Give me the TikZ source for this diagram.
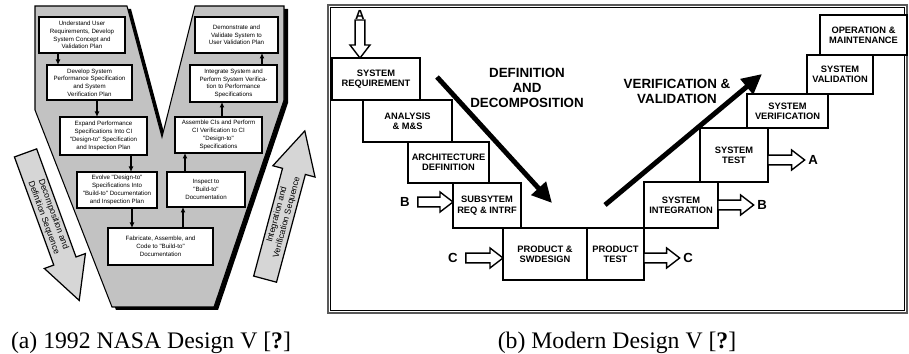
\documentclass[tikz,border=0pt]{standalone}
\usepackage{fontspec}
\setmainfont{Liberation Serif}
\newfontfamily\vfont{Liberation Sans}
\usetikzlibrary{arrows.meta, positioning, calc, shapes.arrows}

\tikzset{
    nasabox/.style 2 args={rectangle, draw=black, fill=white, line width=0.7pt, anchor=north west, inner sep=0.5pt, outer sep=0pt, minimum width=#1*0.02cm, minimum height=#2*0.02cm, align=center, font=\vfont\fontsize{3.5}{4.4}\selectfont},
    stepbox/.style 2 args={rectangle, draw=black, fill=white, line width=0.8pt, anchor=north west, inner sep=0.5pt, outer sep=0pt, minimum width=#1*0.02cm, minimum height=#2*0.02cm, align=center, font=\vfont\bfseries\fontsize{5.3}{5.9}\selectfont},
    flowarrow/.style={-{Latex[length=1.1mm, width=1mm]}, line width=0.6pt},
    seqarrow/.style={single arrow, draw=black, fill=black!16, line width=0.7pt, single arrow head extend=0.2cm, single arrow tip angle=55, align=center, inner sep=1.2pt, font=\vfont\fontsize{4.9}{5.8}\selectfont},
    vfill/.style={fill=black!24, draw=black, line width=0.6pt},
    bigarrow/.style={-{Triangle[length=4mm, width=3.8mm]}, line width=2.8pt},
    biglabel/.style={align=center, font=\vfont\bfseries\fontsize{7.6}{8.6}\selectfont, inner sep=0pt},
    abclabel/.style={font=\vfont\bfseries\fontsize{7.5}{8}\selectfont, inner sep=1pt},
    hollowright/.style={draw=black, fill=white, line width=0.8pt, line join=miter,
        to path={let \p1=(\tikztostart), \p2=(\tikztotarget) in
        (\x1,\y1+2.8pt) -- (\x2-7.4pt,\y1+2.8pt) -- (\x2-7.4pt,\y1+5.7pt) -- (\x2,\y1) -- (\x2-7.4pt,\y1-5.7pt) -- (\x2-7.4pt,\y1-2.8pt) -- (\x1,\y1-2.8pt) -- cycle}},
    hollowdown/.style={draw=black, fill=white, line width=0.8pt, line join=miter,
        to path={let \p1=(\tikztostart), \p2=(\tikztotarget) in
        (\x1+2.8pt,\y1) -- (\x1+2.8pt,\y2+7.4pt) -- (\x1+5.7pt,\y2+7.4pt) -- (\x1,\y2) -- (\x1-5.7pt,\y2+7.4pt) -- (\x1-2.8pt,\y2+7.4pt) -- (\x1-2.8pt,\y1) -- cycle}}
}

\begin{document}
\begin{tikzpicture}[x=0.02cm, y=-0.02cm]
\useasboundingbox (0,0) rectangle (909,354);

% (a) NASA V
\fill[black, shift={(4,3)}] (35,6) -- (127,6) -- (162,137) -- (195,6) -- (284,6) -- (284,100) -- (214,307) -- (112,307) -- (35,110) -- cycle;
\filldraw[vfill] (35,6) -- (127,6) -- (162,137) -- (195,6) -- (284,6) -- (284,100) -- (214,307) -- (112,307) -- (35,110) -- cycle;

\node[seqarrow, rotate=-70, minimum height=3.14cm] (decomp) at (48.5,216) {Decomposition and\\Definition Sequence};
\node[seqarrow, rotate=75, minimum height=3.07cm] (integ) at (282,216) {Integration and\\Verification Sequence};

\node[nasabox={86}{36}] (n1) at (39,17) {Understand User\\Requirements, Develop\\System Concept and\\Validation Plan};
\node[nasabox={85}{35}] (n2) at (47,65) {Develop System\\Performance Specification\\and System\\Verification Plan};
\node[nasabox={87}{38}] (n3) at (60,117) {Expand Performance\\Specifications Into CI\\"Design-to" Specification\\and Inspection Plan};
\node[nasabox={80}{36}] (n4) at (77,172) {Evolve "Design-to"\\Specifications Into\\"Build-to" Documentation\\and Inspection Plan};
\node[nasabox={105}{37}] (n5) at (108,228) {Fabricate, Assemble, and\\Code to "Build-to"\\Documentation};
\node[nasabox={78}{35}] (n6) at (167,172) {Inspect to\\"Build-to"\\Documentation};
\node[nasabox={87}{36}] (n7) at (175,117) {Assemble CIs and Perform\\CI Verification to CI\\"Design-to"\\Specifications};
\node[nasabox={87}{37}] (n8) at (190,65) {Integrate System and\\Perform System Verifica-\\tion to Performance\\Specifications};
\node[nasabox={83}{36}] (n9) at (195,17) {Demonstrate and\\Validate System to\\User Validation Plan};

\draw[flowarrow] (58,0 |- n1.south) -- (58,0 |- n2.north);
\draw[flowarrow] (97,0 |- n2.south) -- (97,0 |- n3.north);
\draw[flowarrow] (131,0 |- n3.south) -- (131,0 |- n4.north);
\draw[flowarrow] (132,0 |- n4.south) -- (132,0 |- n5.north);
\draw[flowarrow] (183,0 |- n5.north) -- (183,0 |- n6.south);
\draw[flowarrow] (185,0 |- n6.north) -- (185,0 |- n7.south);
\draw[flowarrow] (222,0 |- n7.north) -- (222,0 |- n8.south);
\draw[flowarrow] (262,0 |- n8.north) -- (262,0 |- n9.south);

% (b) modern V
\draw[line width=1.3pt, black!65] (328,5) rectangle (907,313);
\draw[line width=0.4pt] (330.5,7.5) rectangle (904.5,310.5);

\node[stepbox={88}{42}] (sysreq) at (332,58) {SYSTEM\\REQUIREMENT};
\node[stepbox={89}{42}] (analysis) at (363,100) {ANALYSIS\\\& M\&S};
\node[stepbox={81}{41}] (arch) at (408,142) {ARCHITECTURE\\DEFINITION};
\node[stepbox={68}{45}] (subsys) at (453,183) {SUBSYTEM\\REQ \& INTRF};
\node[stepbox={84}{52}] (prodsw) at (503,228) {PRODUCT \&\\SWDESIGN};
\node[stepbox={57}{52}] (prodtest) at (587,228) {PRODUCT\\TEST};
\node[stepbox={74}{46}] (sysint) at (644,182) {SYSTEM\\INTEGRATION};
\node[stepbox={68}{54}] (systest) at (700,128) {SYSTEM\\TEST};
\node[stepbox={81}{34}] (sysver) at (747,94) {SYSTEM\\VERIFICATION};
\node[stepbox={66}{39}] (sysval) at (807,55) {SYSTEM\\VALIDATION};
\node[stepbox={87}{40}] (opmaint) at (820,15) {OPERATION \&\\MAINTENANCE};

\node[biglabel] (defdec) at (527,88) {DEFINITION\\AND\\DECOMPOSITION};
\node[biglabel] (vandv) at (677,91) {VERIFICATION \&\\VALIDATION};

\coordinate (ddtail) at (437,77);
\coordinate (ddtip) at (552,203);
\coordinate (vvtail) at (605,205);
\coordinate (vvtip) at (762,74);
\draw[bigarrow] (ddtail) -- (ddtip);
\draw[bigarrow] (vvtail) -- (vvtip);

\node[abclabel] (Bin) at (405,202) {B};
\node[abclabel] (Cin) at (453,258) {C};
\node[abclabel] (Cout) at (688,258) {C};
\node[abclabel] (Bout) at (762,205) {B};
\node[abclabel] (Aout) at (813,160) {A};
\coordinate (Atail) at (360,20);

\draw[hollowdown] (Atail) to (Atail |- sysreq.north);
\node[abclabel] (Atop) at (360,15) {A};
\draw[hollowright] ([xshift=1.2mm]Bin.east) to (Bin -| subsys.west);
\draw[hollowright] ([xshift=1.2mm]Cin.east) to (Cin -| prodsw.west);
\draw[hollowright] (Cout -| prodtest.east) to ([xshift=-0.3mm]Cout.west);
\draw[hollowright] (Bout -| sysint.east) to ([xshift=-0.3mm]Bout.west);
\draw[hollowright] (Aout -| systest.east) to ([xshift=-0.3mm]Aout.west);

% captions
\node[font=\fontsize{13.5}{15}\selectfont] (capa) at (151,343) {(a) 1992 NASA Design V [\textbf{?}]};
\node[font=\fontsize{13.5}{15}\selectfont] (capb) at (617,343) {(b) Modern Design V [\textbf{?}]};

\end{tikzpicture}
\end{document}
